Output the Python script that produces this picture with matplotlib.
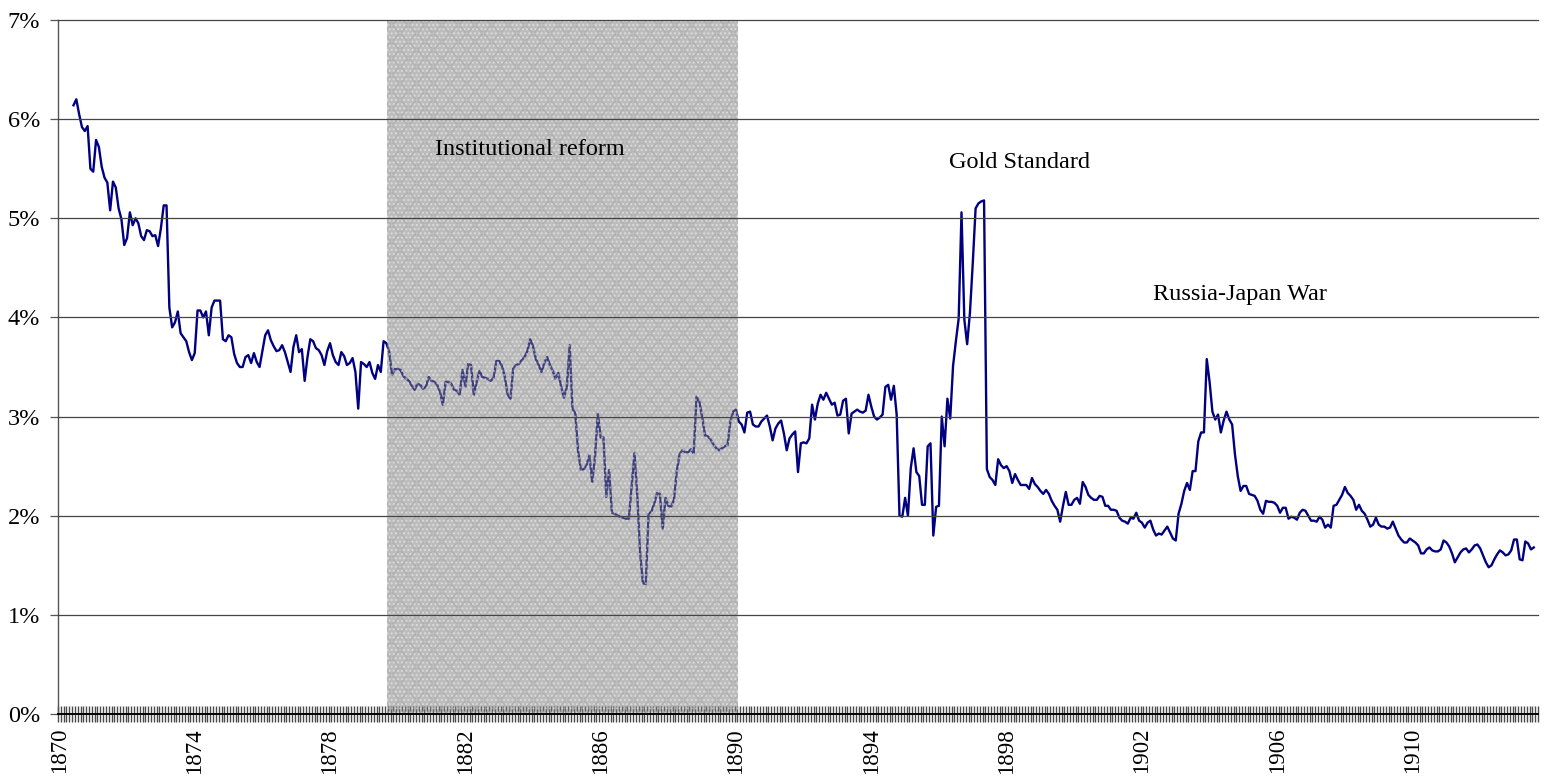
import numpy as np
import matplotlib
matplotlib.use("Agg")
import matplotlib.pyplot as plt
from matplotlib.ticker import FixedLocator, NullFormatter

plt.rcParams['font.family'] = ['Liberation Serif', 'DejaVu Serif']

# ---------------- data: monthly yield (%), Jan 1870 onwards ----------------
start_year = 1870
nan = float('nan')

rates_1870s = [
    nan, nan, nan, nan, nan, 6.14, 6.20, 6.05, 5.92, 5.88, 5.93, 5.50,   # 1870
    5.47, 5.79, 5.72, 5.52, 5.41, 5.36, 5.08, 5.37, 5.31, 5.10, 4.99, 4.73,  # 1871
    4.80, 5.06, 4.93, 5.00, 4.95, 4.82, 4.78, 4.88, 4.87, 4.82, 4.83, 4.72,  # 1872
    4.90, 5.13, 5.13, 4.10, 3.90, 3.95, 4.06, 3.84, 3.80, 3.76, 3.65, 3.57,  # 1873
    3.64, 4.07, 4.07, 4.00, 4.06, 3.82, 4.10, 4.17, 4.17, 4.17, 3.78, 3.76,  # 1874
    3.82, 3.80, 3.63, 3.54, 3.50, 3.50, 3.60, 3.62, 3.54, 3.64, 3.55, 3.50,  # 1875
    3.66, 3.82, 3.87, 3.77, 3.71, 3.66, 3.67, 3.72, 3.65, 3.55, 3.45, 3.70,  # 1876
    3.82, 3.65, 3.68, 3.36, 3.60, 3.78, 3.76, 3.69, 3.67, 3.62, 3.52, 3.66,  # 1877
    3.74, 3.62, 3.55, 3.52, 3.65, 3.61, 3.52, 3.54, 3.59, 3.45, 3.08, 3.55,  # 1878
    3.53, 3.50, 3.55, 3.44, 3.38, 3.52, 3.45, 3.76, 3.74, 3.65, 3.42, 3.48,  # 1879
]
rates_1880s = [
    3.48, 3.47, 3.41, 3.38, 3.36, 3.31, 3.27, 3.33, 3.32, 3.28, 3.30, 3.40,  # 1880
    3.36, 3.35, 3.32, 3.25, 3.12, 3.35, 3.35, 3.33, 3.27, 3.26, 3.22, 3.47,  # 1881
    3.30, 3.53, 3.52, 3.22, 3.35, 3.46, 3.40, 3.39, 3.38, 3.36, 3.39, 3.56,  # 1882
    3.56, 3.51, 3.40, 3.22, 3.18, 3.49, 3.52, 3.53, 3.57, 3.60, 3.66, 3.78,  # 1883
    3.71, 3.58, 3.52, 3.45, 3.54, 3.60, 3.52, 3.46, 3.38, 3.44, 3.30, 3.19,  # 1884
    3.30, 3.72, 3.08, 3.03, 2.65, 2.46, 2.47, 2.51, 2.61, 2.34, 2.60, 3.03,  # 1885
    2.79, 2.79, 2.19, 2.46, 2.03, 2.02, 2.00, 1.99, 1.98, 1.97, 1.97, 2.30,  # 1886
    2.63, 2.20, 1.62, 1.32, 1.31, 2.02, 2.04, 2.12, 2.23, 2.22, 1.87, 2.18,  # 1887
    2.10, 2.09, 2.16, 2.45, 2.62, 2.66, 2.64, 2.64, 2.67, 2.63, 3.20, 3.15,  # 1888
    3.00, 2.81, 2.80, 2.77, 2.72, 2.68, 2.66, 2.68, 2.70, 2.71, 2.95, 3.05,  # 1889
]
rates_1890s = [
    3.07, 2.95, 2.92, 2.84, 3.04, 3.05, 2.92, 2.90, 2.90, 2.95, 2.98, 3.01,  # 1890
    2.90, 2.76, 2.88, 2.93, 2.96, 2.83, 2.66, 2.78, 2.82, 2.85, 2.44, 2.73,  # 1891
    2.74, 2.73, 2.78, 3.12, 2.97, 3.13, 3.22, 3.17, 3.24, 3.18, 3.12, 3.14,  # 1892
    3.01, 3.02, 3.16, 3.18, 2.83, 3.03, 3.05, 3.07, 3.05, 3.04, 3.06, 3.22,  # 1893
    3.10, 3.00, 2.97, 2.99, 3.02, 3.30, 3.32, 3.17, 3.31, 3.02, 2.00, 1.99,  # 1894
    2.18, 2.00, 2.48, 2.68, 2.44, 2.40, 2.11, 2.11, 2.70, 2.73, 1.80, 2.09,  # 1895
    2.10, 3.00, 2.70, 3.18, 2.98, 3.51, 3.76, 3.99, 5.06, 3.98, 3.73, 4.05,  # 1896
    4.55, 5.10, 5.15, 5.17, 5.18, 2.47, 2.39, 2.36, 2.31, 2.57, 2.51, 2.48,  # 1897
    2.50, 2.45, 2.33, 2.42, 2.36, 2.31, 2.31, 2.31, 2.27, 2.38, 2.32, 2.29,  # 1898
    2.25, 2.22, 2.26, 2.22, 2.15, 2.10, 2.06, 1.94, 2.10, 2.24, 2.11, 2.11,  # 1899
]
rates_1900s = [
    2.16, 2.18, 2.12, 2.34, 2.29, 2.21, 2.18, 2.16, 2.16, 2.20, 2.19, 2.10,  # 1900
    2.10, 2.06, 2.06, 2.05, 1.98, 1.95, 1.94, 1.92, 1.98, 1.97, 2.03, 1.95,  # 1901
    1.93, 1.88, 1.93, 1.95, 1.86, 1.80, 1.82, 1.81, 1.85, 1.89, 1.83, 1.77,  # 1902
    1.75, 2.02, 2.12, 2.25, 2.33, 2.26, 2.45, 2.45, 2.75, 2.84, 2.84, 3.58,  # 1903
    3.35, 3.05, 2.97, 3.02, 2.84, 2.96, 3.05, 2.97, 2.92, 2.62, 2.40, 2.25,  # 1904
    2.30, 2.30, 2.22, 2.21, 2.20, 2.15, 2.06, 2.02, 2.15, 2.14, 2.14, 2.13,  # 1905
    2.10, 2.03, 2.08, 2.08, 1.97, 1.99, 1.98, 1.96, 2.03, 2.06, 2.05, 2.00,  # 1906
    1.95, 1.95, 1.94, 1.99, 1.96, 1.88, 1.91, 1.88, 2.10, 2.11, 2.16, 2.21,  # 1907
    2.29, 2.23, 2.20, 2.16, 2.06, 2.11, 2.05, 2.02, 1.96, 1.89, 1.91, 1.98,  # 1908
    1.91, 1.89, 1.89, 1.87, 1.88, 1.94, 1.87, 1.80, 1.76, 1.73, 1.73, 1.77,  # 1909
]
rates_1910s = [
    1.75, 1.73, 1.70, 1.62, 1.62, 1.66, 1.68, 1.65, 1.64, 1.64, 1.66, 1.75,  # 1910
    1.73, 1.69, 1.62, 1.53, 1.58, 1.63, 1.66, 1.67, 1.63, 1.66, 1.70, 1.71,  # 1911
    1.67, 1.60, 1.53, 1.48, 1.50, 1.56, 1.61, 1.65, 1.63, 1.60, 1.61, 1.65,  # 1912
    1.76, 1.76, 1.56, 1.55, 1.74, 1.72, 1.66, 1.68,                          # 1913
]

year_labels = ['1870', '1874', '1878', '1882', '1886', '1890',
               '1894', '1898', '1902', '1906', '1910']
y_values = [0, 1, 2, 3, 4, 5, 6, 7]

# shaded period (months since Jan 1870): Sep 1879 - Jan 1890
reform_period = (116, 240)

annotations = ["Institutional reform", "Gold Standard", "Russia-Japan War"]

# ---------------- build ----------------
rates = np.array(rates_1870s + rates_1880s + rates_1890s + rates_1900s + rates_1910s, dtype=float)
months = np.arange(len(rates))
n_cat = len(rates) + 1

fig = plt.figure(figsize=(15.5, 7.82), dpi=100)
ax = fig.add_axes([58 / 1550, 1 - 714 / 782, 1480 / 1550, 694 / 782])

ax.plot(months, rates, color='#000080', lw=1.7, zorder=2, solid_joinstyle='round')

# shaded region (stippled grey)
x0, x1 = reform_period[0] + 0.2, reform_period[1] + 0.6
ax.axvspan(x0, x1, facecolor='#7a7a7a', alpha=0.5, lw=0, zorder=3)
ax.axvspan(x0, x1, facecolor='none', hatch='....', edgecolor='#f4f4f4', lw=0,
           alpha=0.5, zorder=3)
ax.axvspan(x0, x1, facecolor='none', hatch='xx', edgecolor='#8a8a8a', lw=0,
           alpha=0.25, zorder=3)

for v in y_values[1:]:
    ax.axhline(v, color='#454545', lw=0.9, zorder=4, clip_on=False)

ax.set_xlim(-0.5, n_cat - 0.5)
ax.set_ylim(0, 7)

for s in ['top', 'right']:
    ax.spines[s].set_visible(False)
ax.spines['left'].set_color('#555555')
ax.spines['left'].set_linewidth(1.0)
ax.spines['bottom'].set_color('black')
ax.spines['bottom'].set_linewidth(1.4)
ax.spines['bottom'].set_zorder(5)

# x axis: labels every 48 months, ticks at each category boundary
label_pos = [(int(y) - start_year) * 12 for y in year_labels]
ax.xaxis.set_major_locator(FixedLocator(label_pos))
ax.set_xticklabels(year_labels, rotation=90, fontsize=16.5)
ax.tick_params(axis='x', which='major', length=0, pad=10)
ax.xaxis.set_minor_locator(FixedLocator(np.arange(n_cat + 1) - 0.5))
ax.xaxis.set_minor_formatter(NullFormatter())
ax.tick_params(axis='x', which='minor', direction='inout', length=12, width=1.0,
               color='#4a4a4a')

ax.set_yticks(y_values)
ax.set_yticklabels([f'{v}%' for v in y_values], fontsize=17.5)
ax.tick_params(axis='y', which='major', direction='out', length=6, width=0.9,
               color='#555555', pad=7)

ax.text(167, 5.69, annotations[0], ha='center', va='center', fontsize=17.5, zorder=6)
ax.text(340.6, 5.56, annotations[1], ha='center', va='center', fontsize=17.5, zorder=6)
ax.text(418.6, 4.23, annotations[2], ha='center', va='center', fontsize=17.5, zorder=6)

fig.savefig('out.png', dpi=100)
